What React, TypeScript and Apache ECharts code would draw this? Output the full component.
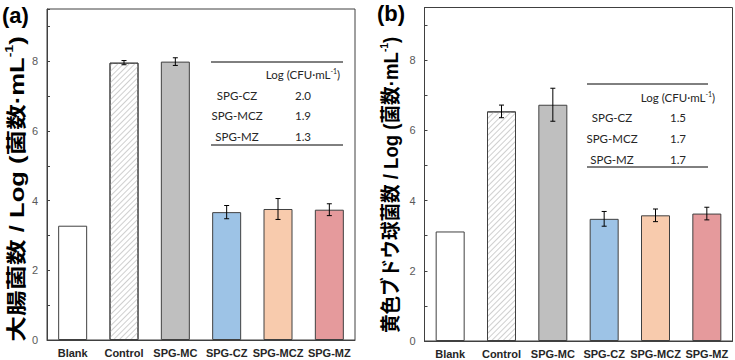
import React, { useEffect, useRef } from "react";
import * as echarts from "echarts";

const categories = ["Blank", "Control", "SPG-MC", "SPG-CZ", "SPG-MCZ", "SPG-MZ"];
const ecoliMeans = [3.28, 7.96, 7.99, 3.67, 3.76, 3.74];
const ecoliErrors = [0, 0.06, 0.11, 0.19, 0.3, 0.17];
const staphMeans = [3.12, 6.54, 6.73, 3.48, 3.58, 3.63];
const staphErrors = [0, 0.18, 0.47, 0.21, 0.18, 0.18];
const barColors = ["#ffffff", "#ffffff", "#bfbfbf", "#9dc3e6", "#f8cbad", "#e59a9c"];
const yTicks = [0, 2, 4, 6, 8];
const tableGroups = ["SPG-CZ", "SPG-MCZ", "SPG-MZ"];
const ecoliReduction = ["2.0", "1.9", "1.3"];
const staphReduction = ["1.5", "1.7", "1.7"];

const BORDER = "#404040";
const TEXT = "#262626";
const LATIN = "'Liberation Sans', Arial, 'Noto Sans CJK JP', sans-serif";
const TABLE_FONT = "Lato, 'Open Sans', sans-serif";

function barData(means: number[]) {
  return means.map((v, i) => {
    const item: any = {
      value: v,
      itemStyle: { color: barColors[i], borderColor: BORDER, borderWidth: 1 },
    };
    if (categories[i] === "Control") {
      item.itemStyle.decal = {
        symbol: "rect",
        symbolSize: 1,
        dashArrayX: [1, 0],
        dashArrayY: [1, 3],
        rotation: -Math.PI / 4,
        color: "#cfcfcf",
      };
    }
    return item;
  });
}

function errData(means: number[], errs: number[]) {
  return means.map((v, i) => [i, v, errs[i]]);
}

function renderErr(params: any, api: any) {
  const e = api.value(2);
  if (!e) return null;
  const i = api.value(0);
  const v = api.value(1);
  const top = api.coord([i, v + e]);
  const bot = api.coord([i, v - e]);
  const cap = 2.5;
  const st = { stroke: "#000", lineWidth: 1 };
  return {
    type: "group",
    children: [
      { type: "line", shape: { x1: top[0], y1: top[1], x2: bot[0], y2: bot[1] }, style: st },
      { type: "line", shape: { x1: top[0] - cap, y1: top[1], x2: top[0] + cap, y2: top[1] }, style: st },
      { type: "line", shape: { x1: bot[0] - cap, y1: bot[1], x2: bot[0] + cap, y2: bot[1] }, style: st },
    ],
  };
}

function yAxis(gridIndex: number) {
  return {
    type: "value",
    gridIndex,
    min: 0,
    max: 9.5,
    interval: 1,
    axisLine: { show: true, lineStyle: { color: BORDER, width: 1 } },
    axisTick: { show: true, inside: true, length: 3, lineStyle: { color: BORDER } },
    splitLine: { show: false },
    axisLabel: {
      fontSize: 11,
      color: "#595959",
      fontFamily: LATIN,
      margin: 9,
      formatter: (v: number) => (yTicks.indexOf(v) >= 0 ? String(v) : ""),
    },
  };
}

function xAxis(gridIndex: number) {
  return {
    type: "category",
    gridIndex,
    data: categories,
    axisLine: { show: true, lineStyle: { color: BORDER, width: 1 } },
    axisTick: { show: false },
    axisLabel: {
      fontSize: 11,
      fontWeight: "bold",
      color: TEXT,
      fontFamily: LATIN,
      margin: 7,
      interval: 0,
    },
  };
}

function table(x1: number, x2: number, top: number, bottom: number, headerY: number, rowYs: number[], labelX: number, valueX: number, values: string[]) {
  const els: any[] = [
    { type: "line", shape: { x1, y1: top, x2, y2: top }, style: { stroke: "#000", lineWidth: 1 } },
    { type: "line", shape: { x1, y1: bottom, x2, y2: bottom }, style: { stroke: "#000", lineWidth: 1 } },
    {
      type: "text",
      x: valueX,
      y: headerY,
      style: {
        text: "Log (CFU·mL{sup|-1})",
        fontSize: 11.5,
        fontFamily: TABLE_FONT,
        fill: TEXT,
        align: "center",
        verticalAlign: "middle",
        rich: {
          sup: { fontSize: 7, fontFamily: TABLE_FONT, fill: TEXT, verticalAlign: "top", lineHeight: 14 },
        },
      },
    },
  ];
  tableGroups.forEach((g, k) => {
    els.push({
      type: "text",
      x: labelX,
      y: rowYs[k],
      style: { text: g, fontSize: 11.5, fontFamily: TABLE_FONT, fill: TEXT, align: "center", verticalAlign: "middle" },
    });
    els.push({
      type: "text",
      x: valueX,
      y: rowYs[k],
      style: { text: values[k], fontSize: 11.5, fontFamily: TABLE_FONT, fill: TEXT, align: "center", verticalAlign: "middle" },
    });
  });
  return els;
}

function axisTitle(text: string, x: number, y: number, sx: number) {
  return {
    type: "text",
    x,
    y,
    rotation: Math.PI / 2,
    scaleX: sx,
    scaleY: 1,
    style: {
      text,
      fontSize: 20,
      fontWeight: "bold",
      fontFamily: LATIN,
      fill: "#000",
      align: "center",
      verticalAlign: "middle",
      rich: {
        sup: { fontSize: 11, fontWeight: "bold", fontFamily: LATIN, fill: "#000", verticalAlign: "top", lineHeight: 26 },
      },
    },
  };
}

export default function App() {
  const ref = useRef<HTMLDivElement>(null);
  useEffect(() => {
    document.body.style.margin = "0";
    const chart = echarts.init(ref.current!, undefined, { renderer: "svg" });
    chart.setOption({
      animation: false,
      grid: [
        { left: 47, top: 9, width: 308, height: 331, show: true, borderColor: BORDER, borderWidth: 1, backgroundColor: "transparent" },
        { left: 424.5, top: 7.5, width: 308, height: 333.5, show: true, borderColor: BORDER, borderWidth: 1, backgroundColor: "transparent" },
      ],
      xAxis: [xAxis(0), xAxis(1)],
      yAxis: [yAxis(0), yAxis(1)],
      series: [
        { type: "bar", xAxisIndex: 0, yAxisIndex: 0, barWidth: 29, data: barData(ecoliMeans) },
        { type: "bar", xAxisIndex: 1, yAxisIndex: 1, barWidth: 29, data: barData(staphMeans) },
        { type: "custom", xAxisIndex: 0, yAxisIndex: 0, renderItem: renderErr, data: errData(ecoliMeans, ecoliErrors), encode: { x: 0, y: 1 }, z: 5 },
        { type: "custom", xAxisIndex: 1, yAxisIndex: 1, renderItem: renderErr, data: errData(staphMeans, staphErrors), encode: { x: 0, y: 1 }, z: 5 },
      ],
      graphic: [
        { type: "text", x: 2, y: 4, style: { text: "(a)", fontSize: 22, fontWeight: "bold", fontFamily: LATIN, fill: "#000" } },
        { type: "text", x: 377, y: 2, style: { text: "(b)", fontSize: 22, fontWeight: "bold", fontFamily: LATIN, fill: "#000" } },
        axisTitle("大腸菌数 / Log (菌数·mL{sup|-1})", 17, 189, 1.28),
        axisTitle("黄色ブドウ球菌数 / Log (菌数·mL{sup|-1})", 391, 185, 0.93),
        ...table(211, 343, 62, 145, 74, [95, 115.5, 136], 237, 303, ecoliReduction),
        ...table(587, 708, 84, 167, 97, [117.5, 138, 159], 612, 678, staphReduction),
      ],
    });
    return () => chart.dispose();
  }, []);
  return <div ref={ref} style={{ width: 735, height: 360 }} />;
}
